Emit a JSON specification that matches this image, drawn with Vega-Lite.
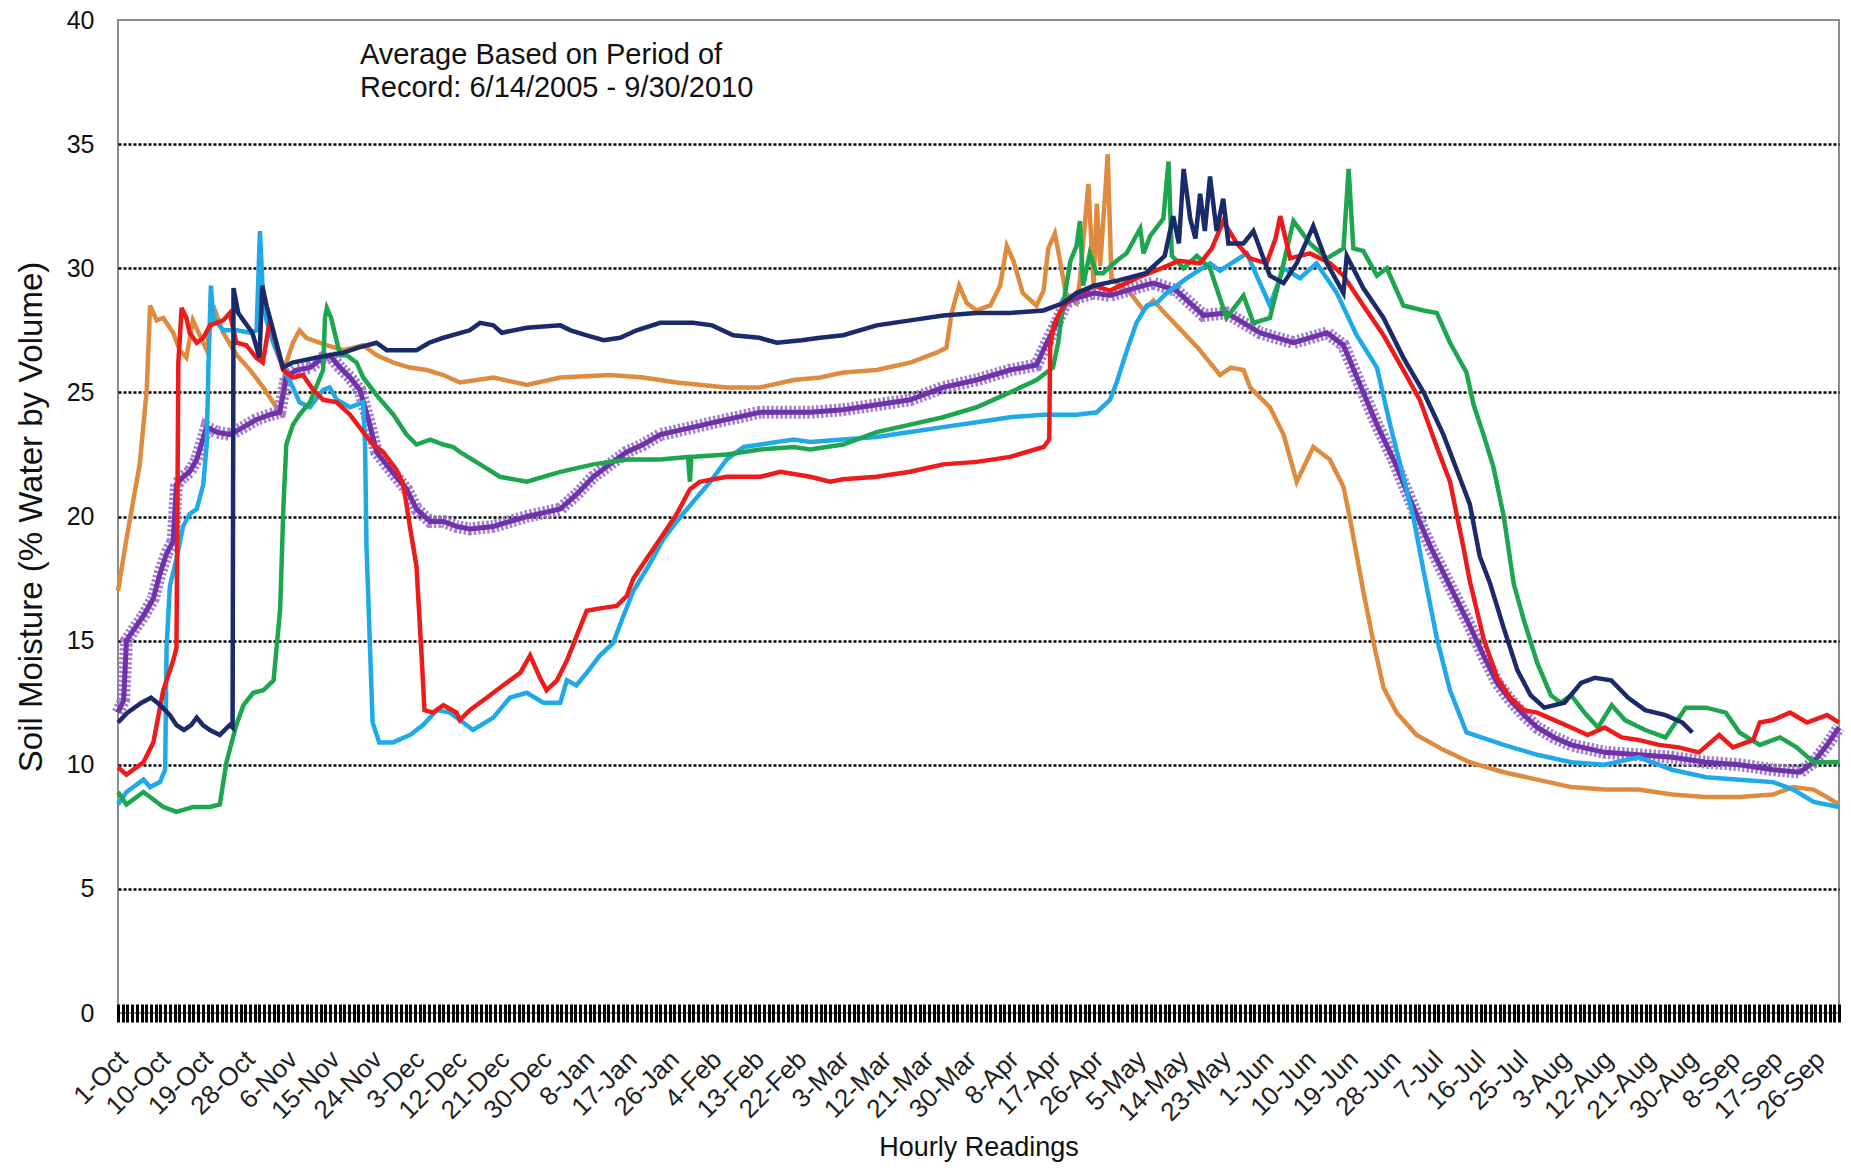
{
"$schema": "https://vega.github.io/schema/vega-lite/v6.json",
"width": 1721, "height": 993,
"autosize": {"type": "none"},
"padding": {"left": 118, "top": 20, "right": 12, "bottom": 157},
"background": "white",
"config": {"view": {"stroke": "#8c8c8c", "strokeWidth": 2}, "font": "Liberation Sans"},
"datasets": {
"navy": [{"day":0,"moisture":11.7},{"day":2,"moisture":12.1},{"day":5,"moisture":12.5},{"day":7,"moisture":12.7},{"day":9,"moisture":12.4},{"day":11,"moisture":12.0},{"day":12.4,"moisture":11.6},{"day":14,"moisture":11.4},{"day":15.5,"moisture":11.6},{"day":16.7,"moisture":11.9},{"day":18,"moisture":11.6},{"day":19.5,"moisture":11.4},{"day":21.6,"moisture":11.2},{"day":23.7,"moisture":11.6},{"day":24.3,"moisture":11.5},{"day":24.5,"moisture":29.2},{"day":25.5,"moisture":28.2},{"day":26.6,"moisture":27.9},{"day":28.5,"moisture":27.4},{"day":30.0,"moisture":26.4},{"day":30.6,"moisture":29.3},{"day":31.5,"moisture":28.5},{"day":32.2,"moisture":28.0},{"day":33.6,"moisture":27.0},{"day":35,"moisture":26.0},{"day":37,"moisture":26.2},{"day":42,"moisture":26.4},{"day":47.8,"moisture":26.6},{"day":51,"moisture":26.8},{"day":54.8,"moisture":27.0},{"day":57,"moisture":26.7},{"day":63.3,"moisture":26.7},{"day":66,"moisture":27.0},{"day":69,"moisture":27.2},{"day":74.6,"moisture":27.5},{"day":76.8,"moisture":27.8},{"day":79.6,"moisture":27.7},{"day":81.4,"moisture":27.4},{"day":86.7,"moisture":27.6},{"day":93.8,"moisture":27.7},{"day":96,"moisture":27.5},{"day":99.4,"moisture":27.3},{"day":103,"moisture":27.1},{"day":106.5,"moisture":27.2},{"day":110,"moisture":27.5},{"day":115,"moisture":27.8},{"day":122,"moisture":27.8},{"day":126,"moisture":27.7},{"day":130.5,"moisture":27.3},{"day":136,"moisture":27.2},{"day":139.7,"moisture":27.0},{"day":145,"moisture":27.1},{"day":148.9,"moisture":27.2},{"day":153.8,"moisture":27.3},{"day":160.9,"moisture":27.7},{"day":168,"moisture":27.9},{"day":175,"moisture":28.1},{"day":182,"moisture":28.2},{"day":189.2,"moisture":28.2},{"day":196.3,"moisture":28.3},{"day":200.5,"moisture":28.6},{"day":203.3,"moisture":29.0},{"day":207,"moisture":29.3},{"day":212,"moisture":29.5},{"day":218,"moisture":29.8},{"day":222,"moisture":30.5},{"day":223.8,"moisture":32.1},{"day":225,"moisture":31.0},{"day":226,"moisture":34.0},{"day":227.4,"moisture":32.0},{"day":228.5,"moisture":31.2},{"day":229.5,"moisture":33.0},{"day":230.5,"moisture":31.5},{"day":231.6,"moisture":33.7},{"day":233,"moisture":31.5},{"day":234.4,"moisture":32.8},{"day":235.5,"moisture":31.0},{"day":238.7,"moisture":31.0},{"day":240.8,"moisture":31.5},{"day":244.3,"moisture":29.7},{"day":247.2,"moisture":29.4},{"day":250,"moisture":30.2},{"day":253.5,"moisture":31.7},{"day":256.4,"moisture":30.2},{"day":259.9,"moisture":29.0},{"day":260.6,"moisture":30.5},{"day":264.1,"moisture":29.2},{"day":268.4,"moisture":28.0},{"day":272.6,"moisture":26.4},{"day":276.9,"moisture":25.0},{"day":281.1,"moisture":23.3},{"day":285.3,"moisture":21.2},{"day":286.7,"moisture":20.5},{"day":288.8,"moisture":18.4},{"day":291,"moisture":17.3},{"day":293.9,"moisture":15.5},{"day":296.8,"moisture":13.8},{"day":299.6,"moisture":12.8},{"day":302.5,"moisture":12.3},{"day":306.8,"moisture":12.5},{"day":310.3,"moisture":13.3},{"day":313.2,"moisture":13.5},{"day":316.7,"moisture":13.4},{"day":320.3,"moisture":12.7},{"day":323.9,"moisture":12.2},{"day":328.2,"moisture":12.0},{"day":331.8,"moisture":11.7},{"day":333.9,"moisture":11.3}],
"orange": [{"day":0,"moisture":17.0},{"day":1.8,"moisture":19.1},{"day":3.2,"moisture":20.6},{"day":4.6,"moisture":22.1},{"day":6.1,"moisture":25.1},{"day":6.8,"moisture":28.5},{"day":8.2,"moisture":27.9},{"day":9.6,"moisture":28.0},{"day":11.7,"moisture":27.4},{"day":13.1,"moisture":26.7},{"day":14.5,"moisture":26.4},{"day":15.9,"moisture":27.9},{"day":18.8,"moisture":26.7},{"day":20.2,"moisture":28.5},{"day":22.3,"moisture":27.4},{"day":25.2,"moisture":26.5},{"day":28.0,"moisture":25.9},{"day":30.8,"moisture":25.2},{"day":33.6,"moisture":24.4},{"day":34.3,"moisture":24.2},{"day":35.7,"moisture":26.2},{"day":37.1,"moisture":27.0},{"day":38.5,"moisture":27.5},{"day":39.9,"moisture":27.2},{"day":44.2,"moisture":26.9},{"day":47.8,"moisture":26.7},{"day":52.0,"moisture":26.9},{"day":54.8,"moisture":26.5},{"day":58.4,"moisture":26.2},{"day":61.9,"moisture":26.0},{"day":65.5,"moisture":25.9},{"day":69.0,"moisture":25.7},{"day":72.5,"moisture":25.4},{"day":79.6,"moisture":25.6},{"day":86.7,"moisture":25.3},{"day":93.8,"moisture":25.6},{"day":104.3,"moisture":25.7},{"day":111.4,"moisture":25.6},{"day":118.5,"moisture":25.4},{"day":129.1,"moisture":25.2},{"day":136.2,"moisture":25.2},{"day":143.3,"moisture":25.5},{"day":148.9,"moisture":25.6},{"day":153.8,"moisture":25.8},{"day":160.9,"moisture":25.9},{"day":168,"moisture":26.2},{"day":173.6,"moisture":26.6},{"day":175.7,"moisture":26.8},{"day":176.8,"moisture":28.2},{"day":178.4,"moisture":29.3},{"day":180,"moisture":28.6},{"day":182.1,"moisture":28.3},{"day":185,"moisture":28.5},{"day":187.1,"moisture":29.3},{"day":188.5,"moisture":30.9},{"day":189.9,"moisture":30.3},{"day":191.9,"moisture":29.0},{"day":194.8,"moisture":28.5},{"day":196.3,"moisture":29.1},{"day":197.3,"moisture":30.8},{"day":198.7,"moisture":31.4},{"day":199.8,"moisture":30.3},{"day":201,"moisture":29.0},{"day":203.3,"moisture":28.6},{"day":204,"moisture":29.5},{"day":205.8,"moisture":33.4},{"day":206.9,"moisture":29.3},{"day":207.6,"moisture":32.6},{"day":208.3,"moisture":30.1},{"day":209.4,"moisture":33.1},{"day":209.9,"moisture":34.6},{"day":210.7,"moisture":29.6},{"day":212.5,"moisture":29.3},{"day":214.7,"moisture":29.0},{"day":217.5,"moisture":28.3},{"day":219.6,"moisture":28.7},{"day":222,"moisture":28.2},{"day":224.5,"moisture":27.7},{"day":229,"moisture":26.8},{"day":233.7,"moisture":25.7},{"day":236,"moisture":26.0},{"day":238.7,"moisture":25.9},{"day":240.1,"moisture":25.2},{"day":244.3,"moisture":24.4},{"day":247.2,"moisture":23.3},{"day":250,"moisture":21.4},{"day":253.5,"moisture":22.8},{"day":257,"moisture":22.3},{"day":259.9,"moisture":21.2},{"day":261.3,"moisture":19.9},{"day":264.1,"moisture":17.0},{"day":266.3,"moisture":14.9},{"day":268.4,"moisture":13.1},{"day":271.2,"moisture":12.1},{"day":275.4,"moisture":11.2},{"day":281.1,"moisture":10.6},{"day":286.7,"moisture":10.1},{"day":293.9,"moisture":9.7},{"day":301,"moisture":9.4},{"day":308.2,"moisture":9.1},{"day":315.3,"moisture":9.0},{"day":322.5,"moisture":9.0},{"day":329.6,"moisture":8.8},{"day":336.8,"moisture":8.7},{"day":343.9,"moisture":8.7},{"day":351,"moisture":8.8},{"day":355.3,"moisture":9.1},{"day":359.6,"moisture":9.0},{"day":362.4,"moisture":8.7},{"day":365,"moisture":8.4}],
"red": [{"day":0,"moisture":9.9},{"day":1.8,"moisture":9.6},{"day":5.4,"moisture":10.1},{"day":7.5,"moisture":10.9},{"day":9.6,"moisture":13.0},{"day":11.7,"moisture":14.2},{"day":12.4,"moisture":14.7},{"day":12.8,"moisture":26.2},{"day":13.5,"moisture":28.4},{"day":14.5,"moisture":28.0},{"day":15.2,"moisture":27.4},{"day":16.7,"moisture":27.0},{"day":18.1,"moisture":27.2},{"day":19.5,"moisture":27.7},{"day":22.3,"moisture":27.9},{"day":23.7,"moisture":28.2},{"day":25.1,"moisture":27.0},{"day":27.2,"moisture":26.9},{"day":29.3,"moisture":26.4},{"day":30.7,"moisture":26.2},{"day":32.2,"moisture":27.9},{"day":33.6,"moisture":26.9},{"day":35,"moisture":25.9},{"day":37.1,"moisture":25.6},{"day":39.2,"moisture":25.7},{"day":41.4,"moisture":25.1},{"day":43.5,"moisture":24.7},{"day":46.4,"moisture":24.6},{"day":49.2,"moisture":24.1},{"day":52,"moisture":23.4},{"day":54.1,"moisture":22.9},{"day":56.2,"moisture":22.6},{"day":59,"moisture":21.9},{"day":60.5,"moisture":21.3},{"day":61.9,"moisture":19.6},{"day":63.3,"moisture":18.0},{"day":64.3,"moisture":14.7},{"day":65,"moisture":12.2},{"day":66.8,"moisture":12.1},{"day":69,"moisture":12.4},{"day":71.8,"moisture":12.1},{"day":72.5,"moisture":11.8},{"day":74.6,"moisture":12.2},{"day":78.2,"moisture":12.7},{"day":81.7,"moisture":13.2},{"day":85.3,"moisture":13.7},{"day":87.4,"moisture":14.4},{"day":89.5,"moisture":13.5},{"day":90.9,"moisture":13.0},{"day":93.1,"moisture":13.4},{"day":95.2,"moisture":14.2},{"day":97.3,"moisture":15.2},{"day":99.4,"moisture":16.2},{"day":102.2,"moisture":16.3},{"day":105.8,"moisture":16.4},{"day":107.9,"moisture":16.8},{"day":109.3,"moisture":17.5},{"day":111.4,"moisture":18.1},{"day":115,"moisture":19.1},{"day":118.5,"moisture":20.1},{"day":121.3,"moisture":21.1},{"day":123.4,"moisture":21.4},{"day":129.1,"moisture":21.6},{"day":136.2,"moisture":21.6},{"day":140.5,"moisture":21.8},{"day":146.8,"moisture":21.6},{"day":151,"moisture":21.4},{"day":153.8,"moisture":21.5},{"day":160.9,"moisture":21.6},{"day":168,"moisture":21.8},{"day":175,"moisture":22.1},{"day":182.1,"moisture":22.2},{"day":189.2,"moisture":22.4},{"day":196.3,"moisture":22.8},{"day":197.5,"moisture":23.1},{"day":197.7,"moisture":26.8},{"day":198.4,"moisture":27.7},{"day":200.5,"moisture":28.5},{"day":203.3,"moisture":29.0},{"day":205.4,"moisture":29.1},{"day":206.9,"moisture":29.3},{"day":210.4,"moisture":29.1},{"day":216,"moisture":29.6},{"day":220,"moisture":29.9},{"day":225,"moisture":30.3},{"day":229.5,"moisture":30.2},{"day":232,"moisture":30.8},{"day":234.4,"moisture":31.9},{"day":237.3,"moisture":31.0},{"day":240.1,"moisture":30.4},{"day":243.6,"moisture":30.2},{"day":245.5,"moisture":31.2},{"day":246.5,"moisture":32.1},{"day":248.6,"moisture":30.4},{"day":252.8,"moisture":30.6},{"day":257.1,"moisture":30.2},{"day":259.9,"moisture":29.7},{"day":264.1,"moisture":28.5},{"day":268.4,"moisture":27.3},{"day":272.6,"moisture":25.9},{"day":276.1,"moisture":24.7},{"day":279.7,"moisture":22.8},{"day":282.5,"moisture":21.4},{"day":285.3,"moisture":18.8},{"day":286.7,"moisture":17.4},{"day":289.6,"moisture":15.1},{"day":292.5,"moisture":13.5},{"day":295.3,"moisture":12.7},{"day":298.2,"moisture":12.2},{"day":301,"moisture":12.1},{"day":304.6,"moisture":11.8},{"day":308.2,"moisture":11.5},{"day":311.7,"moisture":11.2},{"day":315.3,"moisture":11.5},{"day":318.9,"moisture":11.1},{"day":322.5,"moisture":11.0},{"day":326.8,"moisture":10.8},{"day":331,"moisture":10.7},{"day":335.3,"moisture":10.5},{"day":339.6,"moisture":11.2},{"day":342.5,"moisture":10.7},{"day":346.8,"moisture":11.0},{"day":348.2,"moisture":11.7},{"day":351,"moisture":11.8},{"day":354.6,"moisture":12.1},{"day":358.2,"moisture":11.7},{"day":362.5,"moisture":12.0},{"day":365,"moisture":11.7}],
"lightblue": [{"day":0,"moisture":8.4},{"day":1.8,"moisture":8.9},{"day":5.4,"moisture":9.4},{"day":6.8,"moisture":9.1},{"day":8.9,"moisture":9.3},{"day":10.0,"moisture":9.8},{"day":10.3,"moisture":14.7},{"day":11.0,"moisture":17.2},{"day":12.4,"moisture":18.3},{"day":13.8,"moisture":19.6},{"day":15.2,"moisture":20.1},{"day":16.7,"moisture":20.3},{"day":18.1,"moisture":21.3},{"day":18.8,"moisture":22.9},{"day":19.2,"moisture":26.2},{"day":19.7,"moisture":29.3},{"day":20.2,"moisture":28.0},{"day":22.3,"moisture":27.5},{"day":25.2,"moisture":27.5},{"day":28.0,"moisture":27.4},{"day":29.4,"moisture":27.5},{"day":30.1,"moisture":31.5},{"day":30.8,"moisture":28.7},{"day":31.5,"moisture":27.9},{"day":32.9,"moisture":27.0},{"day":35.0,"moisture":26.0},{"day":37.1,"moisture":25.2},{"day":38.5,"moisture":24.6},{"day":40.7,"moisture":24.4},{"day":43.5,"moisture":25.1},{"day":44.9,"moisture":25.2},{"day":46.4,"moisture":24.7},{"day":49.2,"moisture":24.4},{"day":52.0,"moisture":24.6},{"day":52.4,"moisture":22.9},{"day":52.7,"moisture":18.8},{"day":54.0,"moisture":11.7},{"day":55.4,"moisture":10.9},{"day":58.3,"moisture":10.9},{"day":61.9,"moisture":11.2},{"day":64.7,"moisture":11.6},{"day":67.6,"moisture":12.2},{"day":70.4,"moisture":12.1},{"day":72.5,"moisture":11.8},{"day":75.3,"moisture":11.4},{"day":79.6,"moisture":11.9},{"day":83.1,"moisture":12.7},{"day":86.7,"moisture":12.9},{"day":90.2,"moisture":12.5},{"day":93.8,"moisture":12.5},{"day":95.2,"moisture":13.4},{"day":97.2,"moisture":13.2},{"day":99.4,"moisture":13.7},{"day":102.2,"moisture":14.4},{"day":105,"moisture":14.9},{"day":107.2,"moisture":16.0},{"day":109.3,"moisture":17.0},{"day":112.8,"moisture":18.1},{"day":115.7,"moisture":19.1},{"day":118.5,"moisture":19.8},{"day":122,"moisture":20.6},{"day":125.6,"moisture":21.4},{"day":129.1,"moisture":22.3},{"day":132.7,"moisture":22.8},{"day":136.2,"moisture":22.9},{"day":143.3,"moisture":23.1},{"day":146.8,"moisture":23.0},{"day":153.8,"moisture":23.1},{"day":160.9,"moisture":23.2},{"day":168,"moisture":23.4},{"day":175,"moisture":23.6},{"day":182.1,"moisture":23.8},{"day":189.2,"moisture":24.0},{"day":196.3,"moisture":24.1},{"day":203.3,"moisture":24.1},{"day":207.6,"moisture":24.2},{"day":210.4,"moisture":24.7},{"day":211.8,"moisture":25.4},{"day":214,"moisture":26.7},{"day":216,"moisture":27.8},{"day":218.2,"moisture":28.5},{"day":220.3,"moisture":28.6},{"day":222.4,"moisture":29.0},{"day":226.7,"moisture":29.6},{"day":231.6,"moisture":30.2},{"day":233.7,"moisture":29.9},{"day":239.4,"moisture":30.6},{"day":244.3,"moisture":28.5},{"day":247.2,"moisture":30.0},{"day":250.7,"moisture":29.6},{"day":254.2,"moisture":30.2},{"day":258.5,"moisture":29.0},{"day":262.7,"moisture":27.3},{"day":267,"moisture":26.0},{"day":269.8,"moisture":23.7},{"day":272.6,"moisture":21.6},{"day":274.7,"moisture":20.0},{"day":276.9,"moisture":17.8},{"day":279.7,"moisture":15.1},{"day":282.5,"moisture":13.0},{"day":286,"moisture":11.3},{"day":293.9,"moisture":10.8},{"day":301,"moisture":10.4},{"day":308.2,"moisture":10.1},{"day":315.3,"moisture":10.0},{"day":322.5,"moisture":10.3},{"day":329.6,"moisture":9.8},{"day":336.8,"moisture":9.5},{"day":343.9,"moisture":9.4},{"day":351,"moisture":9.3},{"day":355.3,"moisture":9.0},{"day":359.6,"moisture":8.5},{"day":365,"moisture":8.3}],
"green": [{"day":0,"moisture":8.9},{"day":1.8,"moisture":8.4},{"day":5.4,"moisture":8.9},{"day":7.5,"moisture":8.6},{"day":9.6,"moisture":8.3},{"day":12.4,"moisture":8.1},{"day":16,"moisture":8.3},{"day":19.5,"moisture":8.3},{"day":21.6,"moisture":8.4},{"day":23.0,"moisture":10.1},{"day":25.1,"moisture":11.6},{"day":26.6,"moisture":12.4},{"day":28.7,"moisture":12.9},{"day":30.8,"moisture":13.0},{"day":33.0,"moisture":13.4},{"day":34.4,"moisture":16.3},{"day":35.1,"moisture":20.5},{"day":35.7,"moisture":22.9},{"day":37.1,"moisture":23.7},{"day":38.5,"moisture":24.1},{"day":40.7,"moisture":24.6},{"day":43.5,"moisture":25.9},{"day":43.9,"moisture":28.0},{"day":44.3,"moisture":28.4},{"day":45.2,"moisture":28.0},{"day":47.1,"moisture":26.5},{"day":48.5,"moisture":26.5},{"day":50.6,"moisture":26.2},{"day":52.0,"moisture":25.6},{"day":54.8,"moisture":24.9},{"day":58.4,"moisture":24.1},{"day":61.2,"moisture":23.3},{"day":63.3,"moisture":22.9},{"day":66.2,"moisture":23.1},{"day":69.0,"moisture":22.9},{"day":71.1,"moisture":22.8},{"day":72.5,"moisture":22.6},{"day":76.8,"moisture":22.1},{"day":81,"moisture":21.6},{"day":86.7,"moisture":21.4},{"day":93.8,"moisture":21.8},{"day":100.8,"moisture":22.1},{"day":107.9,"moisture":22.3},{"day":115,"moisture":22.3},{"day":120.9,"moisture":22.4},{"day":121.3,"moisture":21.4},{"day":121.6,"moisture":22.4},{"day":129.1,"moisture":22.5},{"day":136.2,"moisture":22.7},{"day":143.3,"moisture":22.8},{"day":146.8,"moisture":22.7},{"day":153.8,"moisture":22.9},{"day":160.9,"moisture":23.4},{"day":168,"moisture":23.7},{"day":175,"moisture":24.0},{"day":182.1,"moisture":24.4},{"day":189.2,"moisture":25.0},{"day":194.8,"moisture":25.5},{"day":198.3,"moisture":26.0},{"day":199.4,"moisture":27.0},{"day":200.5,"moisture":28.6},{"day":202,"moisture":30.3},{"day":203.3,"moisture":30.9},{"day":204,"moisture":31.9},{"day":204.7,"moisture":29.3},{"day":206.1,"moisture":30.6},{"day":207.5,"moisture":29.8},{"day":208.9,"moisture":29.8},{"day":211.8,"moisture":30.3},{"day":213.9,"moisture":30.6},{"day":216.8,"moisture":31.6},{"day":217.5,"moisture":30.6},{"day":218.9,"moisture":31.3},{"day":221.7,"moisture":32.0},{"day":222.8,"moisture":34.3},{"day":223.5,"moisture":30.5},{"day":226,"moisture":30.0},{"day":228.8,"moisture":30.5},{"day":231.6,"moisture":30.0},{"day":235.1,"moisture":28.0},{"day":238.7,"moisture":28.9},{"day":240.8,"moisture":27.8},{"day":244.3,"moisture":28.0},{"day":247.2,"moisture":30.2},{"day":249.3,"moisture":31.9},{"day":252.8,"moisture":31.0},{"day":256.4,"moisture":30.4},{"day":259.9,"moisture":30.8},{"day":261,"moisture":34.0},{"day":262,"moisture":30.8},{"day":264.1,"moisture":30.7},{"day":267,"moisture":29.7},{"day":269.1,"moisture":30.0},{"day":272.6,"moisture":28.5},{"day":276.9,"moisture":28.3},{"day":279.7,"moisture":28.2},{"day":282.5,"moisture":27.0},{"day":286,"moisture":25.8},{"day":287.5,"moisture":24.5},{"day":289.6,"moisture":23.3},{"day":291.7,"moisture":22.0},{"day":293.9,"moisture":20.0},{"day":296,"moisture":17.3},{"day":298.2,"moisture":15.8},{"day":301,"moisture":14.1},{"day":303.9,"moisture":12.8},{"day":306,"moisture":12.5},{"day":308.2,"moisture":12.8},{"day":311,"moisture":12.1},{"day":313.9,"moisture":11.5},{"day":316.8,"moisture":12.4},{"day":319.6,"moisture":11.8},{"day":323.9,"moisture":11.4},{"day":328.2,"moisture":11.1},{"day":332.5,"moisture":12.3},{"day":336.8,"moisture":12.3},{"day":341,"moisture":12.1},{"day":343.9,"moisture":11.3},{"day":348.2,"moisture":10.8},{"day":352.5,"moisture":11.1},{"day":356,"moisture":10.7},{"day":359.6,"moisture":10.1},{"day":365,"moisture":10.1}],
"purple": [{"day":0,"moisture":12.1},{"day":1.2,"moisture":12.6},{"day":1.8,"moisture":15.0},{"day":3.2,"moisture":15.4},{"day":5.4,"moisture":16.0},{"day":7.5,"moisture":16.7},{"day":8.9,"moisture":17.7},{"day":10.3,"moisture":18.5},{"day":11.7,"moisture":19.0},{"day":12.4,"moisture":21.3},{"day":13.8,"moisture":21.6},{"day":15.2,"moisture":21.8},{"day":16.7,"moisture":22.3},{"day":18.8,"moisture":23.6},{"day":20.9,"moisture":23.4},{"day":23.7,"moisture":23.3},{"day":26.6,"moisture":23.6},{"day":29.3,"moisture":23.9},{"day":32.2,"moisture":24.1},{"day":34.3,"moisture":24.2},{"day":35.7,"moisture":25.6},{"day":37.8,"moisture":25.9},{"day":40.7,"moisture":26.0},{"day":43.5,"moisture":26.4},{"day":44.9,"moisture":26.5},{"day":47.1,"moisture":26.0},{"day":49.2,"moisture":25.6},{"day":51.3,"moisture":25.1},{"day":53.4,"moisture":23.7},{"day":54.8,"moisture":22.6},{"day":56.9,"moisture":22.1},{"day":59.0,"moisture":21.6},{"day":61.2,"moisture":21.1},{"day":63.3,"moisture":20.3},{"day":66.2,"moisture":19.8},{"day":69.0,"moisture":19.8},{"day":71.8,"moisture":19.6},{"day":74.6,"moisture":19.5},{"day":79.6,"moisture":19.6},{"day":86.7,"moisture":20.0},{"day":93.8,"moisture":20.3},{"day":97.3,"moisture":20.9},{"day":100.8,"moisture":21.6},{"day":104.3,"moisture":22.1},{"day":107.9,"moisture":22.6},{"day":111.4,"moisture":22.9},{"day":115,"moisture":23.3},{"day":122,"moisture":23.6},{"day":129,"moisture":23.9},{"day":136.2,"moisture":24.2},{"day":146.8,"moisture":24.2},{"day":153.8,"moisture":24.3},{"day":160.9,"moisture":24.5},{"day":168,"moisture":24.7},{"day":175,"moisture":25.2},{"day":182.1,"moisture":25.5},{"day":189.2,"moisture":25.9},{"day":194.8,"moisture":26.1},{"day":197,"moisture":27.0},{"day":199.1,"moisture":27.8},{"day":201,"moisture":28.6},{"day":203.3,"moisture":28.8},{"day":206.9,"moisture":29.0},{"day":210.4,"moisture":28.9},{"day":217.5,"moisture":29.3},{"day":219.6,"moisture":29.4},{"day":224.5,"moisture":29.1},{"day":230.2,"moisture":28.1},{"day":235.1,"moisture":28.2},{"day":242.2,"moisture":27.4},{"day":249.3,"moisture":27.0},{"day":256.4,"moisture":27.4},{"day":259.9,"moisture":26.9},{"day":264.1,"moisture":25.0},{"day":267,"moisture":23.7},{"day":270.5,"moisture":22.3},{"day":274,"moisture":20.7},{"day":278.3,"moisture":18.8},{"day":282.5,"moisture":17.2},{"day":286.7,"moisture":15.6},{"day":289.6,"moisture":14.4},{"day":292.5,"moisture":13.3},{"day":295.3,"moisture":12.6},{"day":298.2,"moisture":12.0},{"day":301,"moisture":11.5},{"day":304.6,"moisture":11.1},{"day":308.2,"moisture":10.8},{"day":315.3,"moisture":10.5},{"day":322.5,"moisture":10.4},{"day":329.6,"moisture":10.3},{"day":336.8,"moisture":10.1},{"day":343.9,"moisture":10.0},{"day":351,"moisture":9.8},{"day":356.7,"moisture":9.7},{"day":359.6,"moisture":10.1},{"day":362.5,"moisture":10.8},{"day":365,"moisture":11.5}],
"note": [{"day":51.3,"moisture":38.6,"label":"Average Based on Period of"},{"day":51.3,"moisture":37.25,"label":"Record: 6/14/2005 - 9/30/2010"}]
},
"encoding": {
"x": {"field": "day", "type": "quantitative", "scale": {"domain": [0, 365], "nice": false, "zero": false},
 "axis": {"title": "Hourly Readings", "titleFontSize": 27, "titleFontWeight": "normal", "titleColor": "#111", "titlePadding": 9,
  "domain": false, "offset": -9, "tickSize": 18, "tickWidth": 3, "tickColor": "#000", "tickCount": 365,
  "labelExpr": "datum.value % 9 === 0 ? timeFormat(datetime(2009, 9, 1 + datum.value), '%-d-%b') : ''",
  "labelAngle": -45, "labelAlign": "right", "labelBaseline": "middle", "labelFontSize": 26, "labelColor": "#222",
  "labelPadding": 33, "labelOffset": 5, "labelOverlap": false, "labelBound": false, "labelFlush": false, "grid": false}},
"y": {"field": "moisture", "type": "quantitative", "scale": {"domain": [0, 40], "nice": false, "zero": true},
 "axis": {"title": "Soil Moisture (% Water by Volume)", "titleFontSize": 33, "titleFontWeight": "normal", "titleColor": "#111", "titlePadding": 18,
  "values": [0, 5, 10, 15, 20, 25, 30, 35, 40], "domain": false, "ticks": false, "labelPadding": 24, "labelFontSize": 25, "labelColor": "#111",
  "grid": true, "gridColor": {"condition": {"test": "datum.value === 0 || datum.value === 40", "value": "rgba(0,0,0,0)"}, "value": "#000"},
  "gridDash": [3, 2], "gridWidth": 2.5}}
},
"layer": [
{"data": {"name": "orange"}, "mark": {"type": "line", "color": "#DE8B40", "strokeWidth": 4.5}},
{"data": {"name": "purple"}, "mark": {"type": "line", "color": "#9A72CF", "strokeWidth": 13, "strokeDash": [2.5, 2], "opacity": 0.9}},
{"data": {"name": "purple"}, "mark": {"type": "line", "color": "#7032A8", "strokeWidth": 5}},
{"data": {"name": "lightblue"}, "mark": {"type": "line", "color": "#1FA9E8", "strokeWidth": 4.5}},
{"data": {"name": "green"}, "mark": {"type": "line", "color": "#1DA64E", "strokeWidth": 4.5}},
{"data": {"name": "red"}, "mark": {"type": "line", "color": "#EE1B1B", "strokeWidth": 4.5}},
{"data": {"name": "navy"}, "mark": {"type": "line", "color": "#1A2A6A", "strokeWidth": 4.5}},
{"data": {"name": "note"}, "mark": {"type": "text", "align": "left", "baseline": "middle", "fontSize": 29, "color": "#111"}, "encoding": {"text": {"field": "label"}}}
]
}
